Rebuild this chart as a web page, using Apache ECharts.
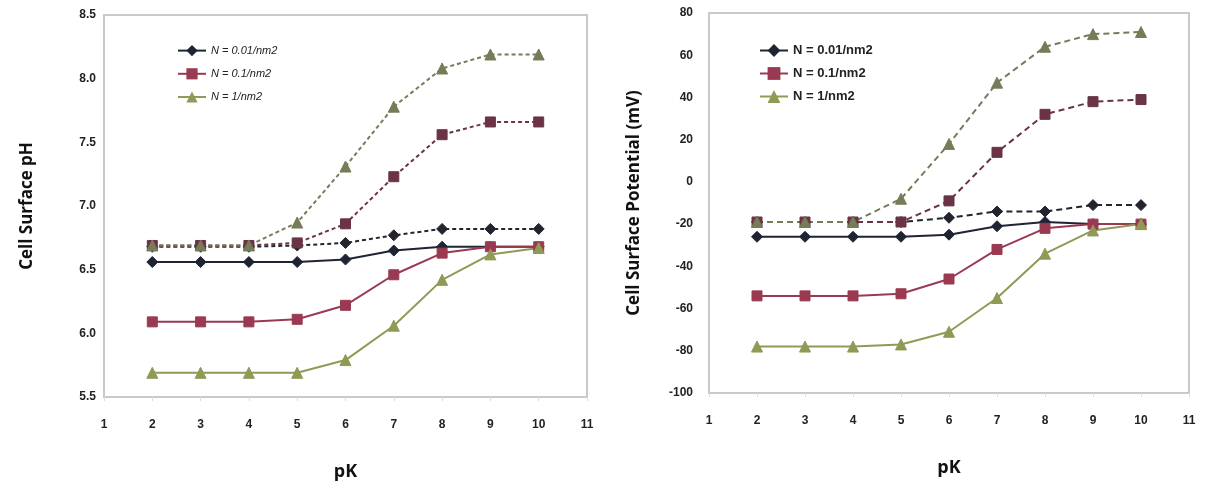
<!DOCTYPE html>
<html>
<head>
<meta charset="utf-8">
<script src="https://cdn.jsdelivr.net/npm/echarts@6/dist/echarts.min.js"></script>
<style>html,body{margin:0;padding:0;background:#fff}#c{width:1214px;height:489px}</style>
</head>
<body>
<div id="c"></div>
<script>
var pK = [2, 3, 4, 5, 6, 7, 8, 9, 10];
var names = ['N = 0.01/nm2', 'N = 0.1/nm2', 'N = 1/nm2'];
// Left panel: Cell Surface pH
var pH_n001_solid  = [6.56, 6.56, 6.56, 6.56, 6.58, 6.65, 6.68, 6.68, 6.68];
var pH_n001_dashed = [6.68, 6.68, 6.68, 6.69, 6.71, 6.77, 6.82, 6.82, 6.82];
var pH_n01_solid   = [6.09, 6.09, 6.09, 6.11, 6.22, 6.46, 6.63, 6.68, 6.68];
var pH_n01_dashed  = [6.69, 6.69, 6.69, 6.71, 6.86, 7.23, 7.56, 7.66, 7.66];
var pH_n1_solid    = [5.69, 5.69, 5.69, 5.69, 5.79, 6.06, 6.42, 6.62, 6.67];
var pH_n1_dashed   = [6.69, 6.69, 6.69, 6.87, 7.31, 7.78, 8.08, 8.19, 8.19];
// Right panel: Cell Surface Potential (mV)
var mV_n001_solid  = [-26, -26, -26, -26, -25, -21, -19, -20, -20];
var mV_n001_dashed = [-19, -19, -19, -19, -17, -14, -14, -11, -11];
var mV_n01_solid   = [-54, -54, -54, -53, -46, -32, -22, -20, -20];
var mV_n01_dashed  = [-19, -19, -19, -19, -9, 14, 32, 38, 39];
var mV_n1_solid    = [-78, -78, -78, -77, -71, -55, -34, -23, -20];
var mV_n1_dashed   = [-19, -19, -19, -8, 18, 47, 64, 70, 71];

var colors = ['#1e2433', '#9a3a52', '#8f9a55'];
var dashColors = ['#22252e', '#6a3444', '#767c58'];
var markers = ['diamond', 'rect', 'triangle'];
var markerSizes = [11, 10, 11];

function pairs(vals) { return pK.map(function (k, i) { return [k, vals[i]]; }); }

function mk(name, idx, vals, grid, dashed) {
  var c = dashed ? dashColors[idx] : colors[idx];
  return {
    name: dashed ? name + ' ' : name,
    type: 'line',
    xAxisIndex: grid, yAxisIndex: grid,
    data: pairs(vals),
    symbol: markers[idx], symbolSize: markerSizes[idx],
    lineStyle: { color: c, width: 2, type: dashed ? (grid === 0 ? [4, 3] : [6, 4]) : 'solid' },
    itemStyle: { color: c, borderColor: c },
    z: dashed ? 2 : 3,
    animation: false
  };
}

var series = [
  mk(names[0], 0, pH_n001_solid, 0, false),
  mk(names[1], 1, pH_n01_solid, 0, false),
  mk(names[2], 2, pH_n1_solid, 0, false),
  mk(names[0], 0, pH_n001_dashed, 0, true),
  mk(names[1], 1, pH_n01_dashed, 0, true),
  mk(names[2], 2, pH_n1_dashed, 0, true),
  mk(names[0], 0, mV_n001_solid, 1, false),
  mk(names[1], 1, mV_n01_solid, 1, false),
  mk(names[2], 2, mV_n1_solid, 1, false),
  mk(names[0], 0, mV_n001_dashed, 1, true),
  mk(names[1], 1, mV_n01_dashed, 1, true),
  mk(names[2], 2, mV_n1_dashed, 1, true)
];

var axisLine = { show: true, onZero: false, lineStyle: { color: '#c9c9c9', width: 2 } };
var lblStyle = { color: '#222', fontWeight: 'bold', fontSize: 12, fontFamily: 'Liberation Sans Narrow, Liberation Sans, Arial' };
var nameStyle = { color: '#111', fontWeight: 'bold', fontSize: 18, fontFamily: 'Open Sans, DejaVu Sans, sans-serif' };

function xAx(grid) {
  return {
    type: 'value', gridIndex: grid, min: 1, max: 11, interval: 1,
    axisLine: axisLine, axisTick: { show: true, length: 4, lineStyle: { color: '#ddd' } },
    splitLine: { show: false },
    axisLabel: Object.assign({ margin: 22 }, lblStyle),
    name: 'pK', nameLocation: 'middle', nameGap: 66, nameTextStyle: nameStyle
  };
}

var chart = echarts.init(document.getElementById('c'), null, { renderer: 'canvas' });
chart.setOption({
  animation: false,
  backgroundColor: '#fff',
  grid: [
    { left: 104, top: 15, width: 483, height: 382, show: true, borderColor: '#c9c9c9', borderWidth: 2 },
    { left: 709, top: 13, width: 480, height: 380, show: true, borderColor: '#c9c9c9', borderWidth: 2 }
  ],
  legend: [
    { data: names, left: 172, top: 40, orient: 'vertical', itemGap: 12, itemWidth: 28, itemHeight: 14,
      textStyle: { fontSize: 11, fontStyle: 'italic', color: '#222', fontFamily: 'Liberation Sans, Arial' } },
    { data: names, left: 754, top: 39, orient: 'vertical', itemGap: 10, itemWidth: 28, itemHeight: 16,
      textStyle: { fontSize: 13, fontWeight: 'bold', color: '#222', fontFamily: 'Liberation Sans, Arial' } }
  ],
  xAxis: [xAx(0), xAx(1)],
  yAxis: [
    { type: 'value', gridIndex: 0, min: 5.5, max: 8.5, interval: 0.5,
      axisLine: axisLine, axisTick: { show: false }, splitLine: { show: false },
      axisLabel: Object.assign({ margin: 8, formatter: function (v) { return v.toFixed(1); } }, lblStyle),
      name: 'Cell Surface pH', nameLocation: 'middle', nameGap: 68, nameTextStyle: Object.assign({}, nameStyle, { fontSize: 17 }) },
    { type: 'value', gridIndex: 1, min: -100, max: 80, interval: 20,
      axisLine: axisLine, axisTick: { show: false }, splitLine: { show: false },
      axisLabel: Object.assign({ margin: 16 }, lblStyle),
      name: 'Cell Surface Potential (mV)', nameLocation: 'middle', nameGap: 66, nameTextStyle: Object.assign({}, nameStyle, { fontSize: 17 }) }
  ],
  series: series
});
</script>
</body>
</html>
